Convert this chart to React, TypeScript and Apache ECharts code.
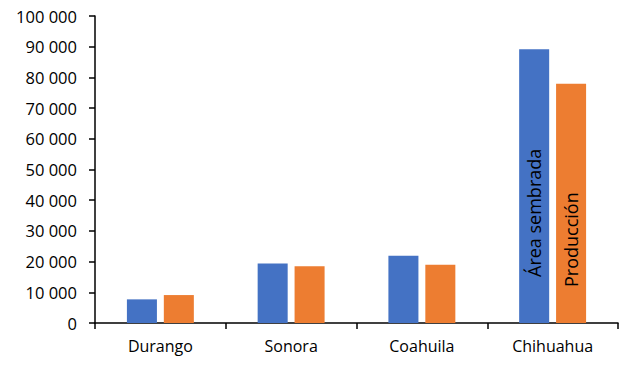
import React, { useEffect, useRef } from "react";
import * as echarts from "echarts";

const categories = ["Durango", "Sonora", "Coahuila", "Chihuahua"];
const areaSembrada = [7700, 19400, 21900, 89200];
const produccion = [9100, 18500, 19000, 77900];
const seriesNames = ["Área sembrada", "Producción"];
const yMin = 0;
const yMax = 100000;
const yInterval = 10000;

const FONT = "'Open Sans', sans-serif";

function fmt(v: number): string {
  return String(v).replace(/\B(?=(\d{3})+(?!\d))/g, " ");
}

function withLabel(values: number[], name: string, distance: number) {
  return values.map((v, i) =>
    i === values.length - 1
      ? {
          value: v,
          label: {
            show: true,
            formatter: name,
            position: "insideBottom",
            rotate: 90,
            align: "left",
            verticalAlign: "middle",
            distance,
            color: "#000",
            fontFamily: FONT,
            fontSize: 18,
          },
        }
      : v
  );
}

export default function App() {
  const ref = useRef<HTMLDivElement>(null);
  useEffect(() => {
    document.body.style.margin = "0";
    const chart = echarts.init(ref.current!, null, { renderer: "svg" });
    chart.setOption({
      animation: false,
      backgroundColor: "#fff",
      grid: { left: 95, right: 9, top: 16, bottom: 59 },
      xAxis: {
        type: "category",
        data: categories,
        axisLine: { lineStyle: { color: "#000", width: 1.5 } },
        axisTick: { show: true, length: 6, lineStyle: { color: "#000", width: 1.5 } },
        axisLabel: { color: "#000", fontFamily: FONT, fontSize: 16, margin: 15 },
      },
      yAxis: {
        type: "value",
        min: yMin,
        max: yMax,
        interval: yInterval,
        axisLine: { show: true, lineStyle: { color: "#000", width: 1.5 } },
        axisTick: { show: true, length: 6, lineStyle: { color: "#000", width: 1.5 } },
        splitLine: { show: false },
        axisLabel: {
          color: "#000",
          fontFamily: FONT,
          fontSize: 16.5,
          margin: 18,
          formatter: (v: number) => fmt(v),
        },
      },
      series: [
        {
          name: seriesNames[0],
          type: "bar",
          data: withLabel(areaSembrada, seriesNames[0], 46),
          itemStyle: { color: "#4472C4" },
          barGap: "23%",
          barCategoryGap: "48.8%",
        },
        {
          name: seriesNames[1],
          type: "bar",
          data: withLabel(produccion, seriesNames[1], 36),
          itemStyle: { color: "#ED7D31" },
          barGap: "23%",
          barCategoryGap: "48.8%",
        },
      ],
    });
    return () => chart.dispose();
  }, []);
  return <div ref={ref} style={{ width: 627, height: 382 }} />;
}
